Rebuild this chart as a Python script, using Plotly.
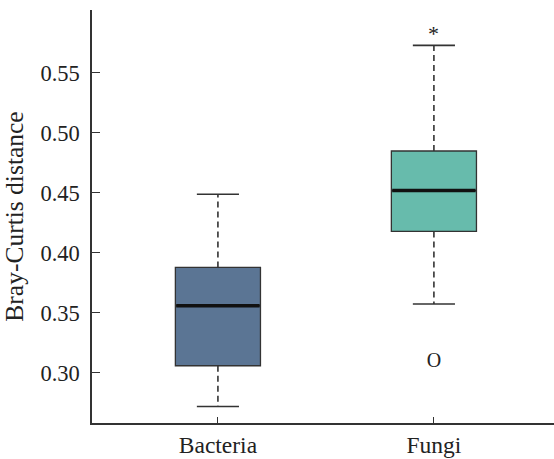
import plotly.graph_objects as go

categories = ["Bacteria", "Fungi"]
positions = [0, 1]
q1 = [0.306, 0.418]
median = [0.356, 0.452]
q3 = [0.388, 0.485]
lower_whisker = [0.272, 0.3575]
upper_whisker = [0.449, 0.573]
colors = ["#5b7594", "#67bbac"]
outlier_x = [1]
outlier_y = [0.309]
outlier_label = ["O"]
star_x = 1
star_y = 0.573
y_ticks = [0.30, 0.35, 0.40, 0.45, 0.50, 0.55]

box_w = 0.394
cap_w = 0.195
font_family = "Liberation Serif"

fig = go.Figure()
for i, cat in enumerate(categories):
    p = positions[i]
    fig.add_trace(go.Box(
        x=[p], q1=[q1[i]], median=[median[i]], q3=[q3[i]],
        lowerfence=[q1[i]], upperfence=[q3[i]],
        width=box_w, whiskerwidth=0,
        fillcolor=colors[i], line=dict(color="#333333", width=1.3),
        boxpoints=False, showlegend=False, hoverinfo="skip",
    ))
    # dashed whiskers
    for a, b in [(q3[i], upper_whisker[i]), (q1[i], lower_whisker[i])]:
        fig.add_trace(go.Scatter(
            x=[p, p], y=[a, b], mode="lines",
            line=dict(color="#333333", width=1.6, dash="6px,4px"),
            showlegend=False, hoverinfo="skip",
        ))
    # caps
    for v in [upper_whisker[i], lower_whisker[i]]:
        fig.add_trace(go.Scatter(
            x=[p - cap_w / 2, p + cap_w / 2], y=[v, v], mode="lines",
            line=dict(color="#333333", width=1.6),
            showlegend=False, hoverinfo="skip",
        ))
    # thick median
    fig.add_trace(go.Scatter(
        x=[p - box_w / 2 + 0.004, p + box_w / 2 - 0.004], y=[median[i], median[i]],
        mode="lines", line=dict(color="#111111", width=3.5),
        showlegend=False, hoverinfo="skip",
    ))

fig.add_trace(go.Scatter(
    x=outlier_x, y=outlier_y, mode="text", text=outlier_label,
    textposition="middle center",
    textfont=dict(family=font_family, size=20, color="#222222"),
    showlegend=False, hoverinfo="skip",
))

fig.add_annotation(x=star_x, y=star_y, text="*", showarrow=False,
                   yanchor="bottom", yshift=-3,
                   font=dict(family=font_family, size=22, color="#222222"))

fig.update_layout(
    width=554, height=459,
    margin=dict(l=92, r=0, t=10, b=36),
    paper_bgcolor="white", plot_bgcolor="white",
    font=dict(family=font_family, color="#222222"),
)
fig.update_xaxes(
    range=[-0.583, 1.556], tickvals=positions, ticktext=categories,
    ticks="inside", ticklen=6, tickcolor="#333333", tickwidth=1.3,
    showline=True, linecolor="#333333", linewidth=1.5,
    showgrid=False, zeroline=False,
    tickfont=dict(family=font_family, size=23.5, color="#222222"),
)
fig.update_yaxes(
    range=[0.2583, 0.6025], tickvals=y_ticks, tickformat=".2f",
    ticks="inside", ticklen=8, tickcolor="#333333", tickwidth=1.3,
    showline=True, linecolor="#333333", linewidth=1.5,
    showgrid=False, zeroline=False,
    ticklabelstandoff=6,
    tickfont=dict(family=font_family, size=22.5, color="#222222"),
    title=dict(text="Bray-Curtis distance", standoff=9,
               font=dict(family=font_family, size=25.5, color="#222222")),
)

fig.write_html("out.html")
